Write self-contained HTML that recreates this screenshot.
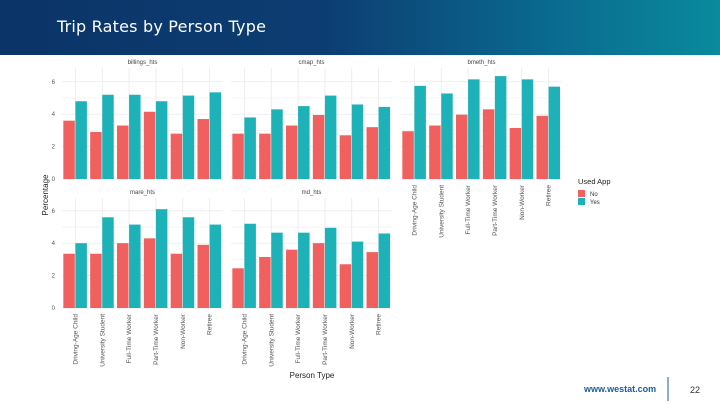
<!DOCTYPE html>
<html><head><meta charset="utf-8"><style>
body{margin:0;width:720px;height:405px;overflow:hidden;background:#fff;font-family:"Liberation Sans",sans-serif}
#hdr{position:absolute;left:0;top:0;width:720px;height:55px;background:linear-gradient(90deg,#0b3468 0%,#0c3d72 45%,#0a6f92 80%,#0a8a9c 100%)}
#title{position:absolute;left:57px;top:17px;color:#fff;font-size:16px;font-family:"DejaVu Sans",sans-serif;letter-spacing:0.2px}
</style></head><body>
<div id="hdr"></div>
<div id="title">Trip Rates by Person Type</div>
<svg id="c" width="720" height="405" style="position:absolute;left:0;top:0"></svg>
<script>
const categories=["Driving-Age Child","University Student","Full-Time Worker","Part-Time Worker","Non-Worker","Retiree"];
const panelNames=["billings_hts","cmap_hts","bmeth_hts","mare_hts","md_hts"];
const noVals=[[3.6,2.9,3.3,4.15,2.8,3.7],[2.8,2.8,3.3,3.95,2.7,3.2],[2.95,3.3,3.97,4.3,3.15,3.9],[3.35,3.35,4.0,4.3,3.35,3.9],[2.45,3.15,3.6,4.0,2.7,3.45]];
const yesVals=[[4.8,5.2,5.2,4.8,5.15,5.35],[3.8,4.3,4.5,5.15,4.6,4.45],[5.75,5.28,6.15,6.35,6.15,5.7],[4.0,5.6,5.15,6.1,5.6,5.15],[5.2,4.65,4.65,4.95,4.1,4.6]];
const yTicks=[0,2,4,6];
const NS="http://www.w3.org/2000/svg";
const svg=document.getElementById('c');
function mk(t,a,p){const e=document.createElementNS(NS,t);for(const k in a)e.setAttribute(k,a[k]);(p||svg).appendChild(e);return e;}
const panelX=[62,231,401,62,231];const panelY0=[179,179,179,308,308];
const W=161,panelTop=[68,68,68,198,198];const ppu=16.2;
panelNames.forEach((nm,p)=>{
  const x0=panelX[p],y0=panelY0[p];
  const g=mk('g',{});
  
  
  const ys=v=>y0-v*ppu;
  const bw=W/categories.length;
  for(let v=0;v<=6.5;v+=1){if(ys(v)<panelTop[p])break;mk('line',{x1:x0,x2:x0+W,y1:ys(v),y2:ys(v),stroke:v%2?'#f2f2f2':'#e6e6e6','stroke-width':0.7},g);}
  categories.forEach((c,i)=>{const cx=x0+bw*(i+0.5);mk('line',{x1:cx,x2:cx,y1:panelTop[p],y2:y0,stroke:'#e6e6e6','stroke-width':0.7},g);});
  const t=mk('text',{x:x0+W/2,y:panelTop[p]-4,'font-size':6,fill:'#444','text-anchor':'middle'},g);t.textContent=nm;
  if(p==0||p==3){yTicks.forEach(v=>{const tt=mk('text',{x:x0-7,y:ys(v)+2,'font-size':6,fill:'#555','text-anchor':'end'},g);tt.textContent=v;});}
  categories.forEach((c,i)=>{
    const b=bw*0.9/2,cx=x0+bw*(i+0.5);
    const r=mk('rect',{x:cx-b,y:ys(noVals[p][i]),width:b-0.6,height:noVals[p][i]*ppu,fill:'#f0605e'},g);
    
    
    const r2=mk('rect',{x:cx,y:ys(yesVals[p][i]),width:b-0.6,height:yesVals[p][i]*ppu,fill:'#1db2b7'},g);
    
    
    if(p>=2){const lt=mk('text',{x:0,y:0,'font-size':6.5,fill:'#555','text-anchor':'end',transform:`translate(${cx+2},${y0+6}) rotate(-90)`},g);lt.textContent=c;}
  });
});
let e=mk('text',{x:0,y:0,'font-size':8,fill:'#222','text-anchor':'middle',transform:'translate(48,195) rotate(-90)'});e.textContent='Percentage';

e=mk('text',{x:312,y:378,'font-size':8,fill:'#222','text-anchor':'middle'});e.textContent='Person Type';

const lg=mk('g',{});
e=mk('text',{x:578,y:184,'font-size':7.5,fill:'#222'},lg);e.textContent='Used App';
mk('rect',{x:578,y:190,width:7,height:7,fill:'#f0605e'},lg);mk('rect',{x:578,y:198,width:7,height:7,fill:'#1db2b7'},lg);
e=mk('text',{x:590,y:196,'font-size':6,fill:'#333'},lg);e.textContent='No';
e=mk('text',{x:590,y:204,'font-size':6,fill:'#333'},lg);e.textContent='Yes';
e=mk('text',{x:584,y:392,'font-size':9,fill:'#1b5c9a','font-weight':'bold'});e.textContent='www.westat.com';

mk('line',{x1:668,x2:668,y1:377,y2:401,stroke:'#1b5c9a','stroke-width':1});
e=mk('text',{x:690,y:393,'font-size':9,fill:'#333'});e.textContent='22';

</script>
</body></html>
